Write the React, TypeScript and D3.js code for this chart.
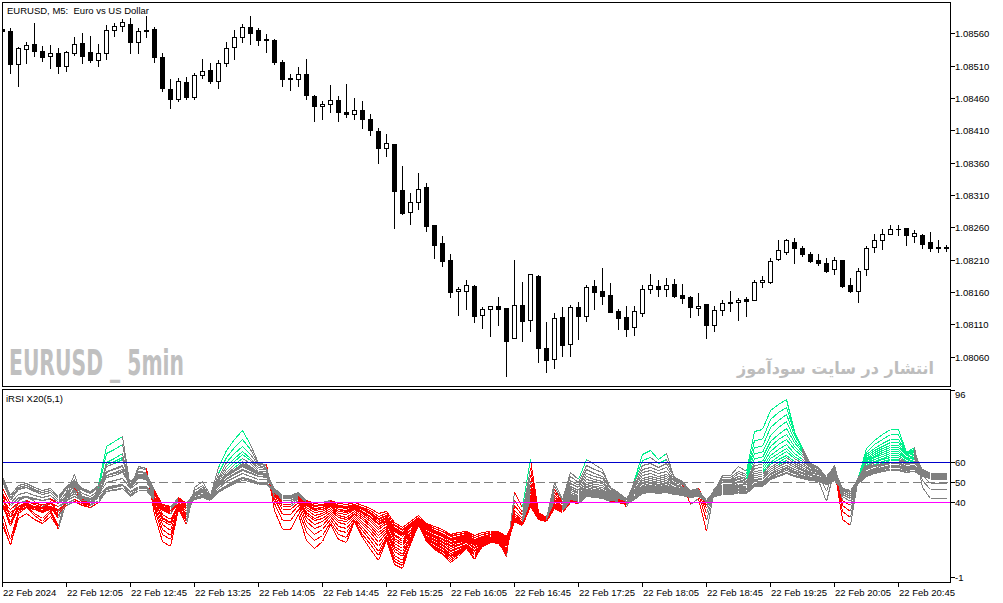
import React from "react";
import * as d3 from "d3";

// ---------- DATA (EURUSD M5, 22 Feb 2024, first bar is partly hidden) ----------
const opens = [
  1.08566, 1.08564, 1.08512, 1.08535, 1.08544, 1.08533, 1.08525, 1.08529, 1.08509, 1.0853,
  1.08545, 1.08531, 1.08518, 1.08529, 1.08565, 1.08571, 1.08575, 1.08546, 1.08565, 1.08567,
  1.08523, 1.08474, 1.08459, 1.08485, 1.08462, 1.08495, 1.08503, 1.08487, 1.08514, 1.08539,
  1.08554, 1.08569, 1.08565, 1.08551, 1.0855, 1.08516, 1.08491, 1.08489, 1.08497, 1.08463,
  1.08447, 1.0845, 1.08457, 1.08438, 1.08435, 1.08442, 1.08428, 1.08409, 1.08382, 1.08389,
  1.08317, 1.08284, 1.08299, 1.08323, 1.08263, 1.08235, 1.08209, 1.08161, 1.08161, 1.08169,
  1.08124, 1.08134, 1.08138, 1.08135, 1.08088, 1.0814, 1.08117, 1.08185, 1.08074, 1.08057,
  1.08122, 1.0808, 1.08137, 1.08123, 1.08169, 1.08162, 1.08155, 1.0813, 1.08121, 1.08106,
  1.08128, 1.08165, 1.08169, 1.08164, 1.08172, 1.08156, 1.08152, 1.08135, 1.08141, 1.08109,
  1.08132, 1.08145, 1.08145, 1.08149, 1.08148, 1.08176, 1.08175, 1.08211, 1.08222, 1.08237,
  1.08228, 1.08218, 1.08209, 1.08204, 1.08195, 1.08209, 1.08171, 1.08162, 1.08195, 1.0823,
  1.08241, 1.0825, 1.08257, 1.08259, 1.08246, 1.08248, 1.08238, 1.08229, 1.08229,
];
const highs = [
  1.08575, 1.08568, 1.08539, 1.08547, 1.08576, 1.0854, 1.08542, 1.08537, 1.08533, 1.08555,
  1.0856, 1.08556, 1.08544, 1.08573, 1.08576, 1.08582, 1.08583, 1.08568, 1.08586, 1.0857,
  1.0853, 1.0849, 1.08491, 1.08492, 1.08498, 1.0852, 1.08514, 1.08519, 1.08546, 1.08565,
  1.08574, 1.08586, 1.08568, 1.08559, 1.08551, 1.08519, 1.08497, 1.08508, 1.0852, 1.08465,
  1.08455, 1.0848, 1.08463, 1.08482, 1.0846, 1.08456, 1.08435, 1.08413, 1.08404, 1.08389,
  1.08355, 1.08313, 1.08344, 1.08329, 1.08263, 1.08247, 1.08218, 1.08167, 1.08179, 1.0817,
  1.08136, 1.08138, 1.08152, 1.08135, 1.08209, 1.08176, 1.08187, 1.08186, 1.08113, 1.08127,
  1.08136, 1.0814, 1.08145, 1.0817, 1.08179, 1.08197, 1.08174, 1.08134, 1.08139, 1.08138,
  1.0817, 1.08187, 1.08179, 1.08181, 1.0818, 1.08173, 1.08154, 1.08158, 1.08141, 1.08139,
  1.08148, 1.08162, 1.0815, 1.08152, 1.08179, 1.08184, 1.08213, 1.0824, 1.08242, 1.08244,
  1.08231, 1.08221, 1.08219, 1.08213, 1.08214, 1.08209, 1.08181, 1.08197, 1.08231, 1.08249,
  1.08257, 1.08264, 1.08264, 1.08259, 1.08256, 1.08249, 1.08253, 1.0824, 1.08232,
];
const lows = [
  1.08555, 1.08498, 1.08479, 1.08514, 1.08525, 1.08517, 1.08507, 1.08499, 1.08502, 1.08527,
  1.08514, 1.08515, 1.08509, 1.08521, 1.08556, 1.08564, 1.08529, 1.0853, 1.08555, 1.08516,
  1.08471, 1.08445, 1.08456, 1.08459, 1.08459, 1.08491, 1.08483, 1.08475, 1.0851, 1.08521,
  1.08546, 1.08544, 1.08542, 1.08531, 1.08512, 1.08478, 1.08473, 1.08479, 1.08458, 1.08424,
  1.08427, 1.08439, 1.08424, 1.0843, 1.08427, 1.08413, 1.08403, 1.0836, 1.0837, 1.08259,
  1.0828, 1.08265, 1.08288, 1.08254, 1.08212, 1.082, 1.08152, 1.08125, 1.08133, 1.08113,
  1.08104, 1.08092, 1.08109, 1.0803, 1.08088, 1.08084, 1.081, 1.08052, 1.08036, 1.08042,
  1.08061, 1.08061, 1.08087, 1.08115, 1.08134, 1.08141, 1.08129, 1.08103, 1.08092, 1.08093,
  1.08123, 1.08158, 1.08154, 1.08154, 1.08152, 1.08143, 1.08121, 1.08125, 1.08089, 1.08099,
  1.08125, 1.0813, 1.08117, 1.08123, 1.08148, 1.08167, 1.08174, 1.08209, 1.08219, 1.08205,
  1.08215, 1.08206, 1.08202, 1.08191, 1.08187, 1.08167, 1.0816, 1.08145, 1.08186, 1.08221,
  1.08226, 1.08249, 1.08248, 1.08233, 1.08238, 1.08228, 1.08223, 1.08221, 1.08224,
];
const closes = [
  1.08563, 1.08512, 1.08537, 1.08542, 1.08532, 1.08524, 1.08529, 1.08509, 1.08531, 1.08544,
  1.08525, 1.08518, 1.0853, 1.08565, 1.08571, 1.08577, 1.08546, 1.08564, 1.08563, 1.08524,
  1.08475, 1.08459, 1.08486, 1.08462, 1.08495, 1.08502, 1.08487, 1.08514, 1.08537, 1.08554,
  1.08569, 1.08561, 1.0855, 1.08549, 1.08515, 1.0849, 1.0849, 1.08497, 1.08464, 1.08447,
  1.0845, 1.08457, 1.08439, 1.08435, 1.08442, 1.08427, 1.0841, 1.08382, 1.0839, 1.08316,
  1.08282, 1.08299, 1.08319, 1.08262, 1.08233, 1.08208, 1.0816, 1.08165, 1.0817, 1.08123,
  1.08133, 1.08138, 1.08134, 1.08084, 1.0814, 1.08115, 1.08187, 1.08074, 1.08055, 1.0812,
  1.08078, 1.08137, 1.08123, 1.08168, 1.0816, 1.08154, 1.08129, 1.0812, 1.08103, 1.08131,
  1.08165, 1.0817, 1.08164, 1.0817, 1.08154, 1.0815, 1.08136, 1.08139, 1.08109, 1.08132,
  1.08143, 1.08143, 1.08148, 1.08146, 1.08176, 1.08178, 1.08208, 1.08225, 1.08241, 1.08228,
  1.08219, 1.08208, 1.08204, 1.08192, 1.08209, 1.08169, 1.08161, 1.08193, 1.08228, 1.0824,
  1.08249, 1.08257, 1.08257, 1.08248, 1.08251, 1.08234, 1.08228, 1.08228, 1.08228,
];
const firstBar = -1; // index of the first (clipped) bar relative to the left edge
const timeLabels = [
  "22 Feb 2024", "22 Feb 12:05", "22 Feb 12:45", "22 Feb 13:25", "22 Feb 14:05",
  "22 Feb 14:45", "22 Feb 15:25", "22 Feb 16:05", "22 Feb 16:45", "22 Feb 17:25",
  "22 Feb 18:05", "22 Feb 18:45", "22 Feb 19:25", "22 Feb 20:05", "22 Feb 20:45",
];
const barsPerTimeLabel = 8;
const priceTicks = [1.0856, 1.0851, 1.0846, 1.0841, 1.0836, 1.0831, 1.0826, 1.0821, 1.0816, 1.0811, 1.0806];
const rsiPeriods = [5, 6, 7, 8, 9, 10, 11, 12, 13, 14, 15, 16, 17, 18, 19, 20, 21, 22, 23, 24];
const rsiRange = [-1, 96];
const rsiAxisLabels = [96, 60, 50, 40, -1];
const levelHigh = 60;
const levelMid = 50;
const levelLow = 40;
const chartTitle = "EURUSD, M5:  Euro vs US Dollar";
const indicatorTitle = "iRSI X20(5,1)";
const watermarkLeft = "EURUSD _ 5min";
const watermarkRight = "انتشار در سایت سودآموز";

// ---------- LAYOUT ----------
const W = 1003;
const H = 603;
const L = 2.5, R = 950.5;
const mainTop = 2.5, mainBot = 386.5;
const indTop = 389.5, indBot = 582.5;
const FONT = "'Liberation Sans', Arial, sans-serif";

const GRAY = "#808080";
const RED = "#FF0000";
const GREEN = "#00F08C";

function computeRSI(period: number): number[] {
  const n = closes.length;
  let g = 0, l = 0;
  for (let i = 1; i <= period; i++) {
    const d = closes[i] - closes[i - 1];
    if (d > 0) g += d; else l -= d;
  }
  g /= period; l /= period;
  const val = (gg: number, ll: number) => (ll === 0 ? 100 : 100 - 100 / (1 + gg / ll));
  const out = [val(g, l)];
  for (let i = 1; i < n; i++) {
    const d = closes[i] - closes[i - 1];
    g = (g * (period - 1) + Math.max(d, 0)) / period;
    l = (l * (period - 1) + Math.max(-d, 0)) / period;
    out.push(val(g, l));
  }
  return out;
}

export default function App() {
  const n = closes.length;
  const x = d3.scaleLinear().domain([firstBar, firstBar + n - 1]).range([2, 2 + 8 * (n - 1)]);
  const yP = d3.scaleLinear().domain([1.0806, 1.0856]).range([356.6, 33.3]);
  const yR = d3.scaleLinear().domain(rsiRange).range([583.7, 389.7]);

  const candles = closes.map((c, i) => {
    const k = firstBar + i;
    const cx = Math.round(x(k));
    const o = opens[i];
    const yH = Math.round(yP(highs[i]));
    const yL = Math.round(yP(lows[i]));
    const yO = Math.round(yP(o));
    const yC = Math.round(yP(c));
    const top = Math.min(yO, yC);
    const bot = Math.max(yO, yC);
    const bull = c > o;
    return (
      <g key={i}>
        <line x1={cx + 0.5} x2={cx + 0.5} y1={yH} y2={yL + 1} stroke="#000" strokeWidth={1} />
        {bull && bot > top ? (
          <rect x={cx - 1.5} y={top + 0.5} width={4} height={bot - top} fill="#fff" stroke="#000" strokeWidth={1} />
        ) : (
          <rect x={cx - 2} y={top} width={5} height={Math.max(1, bot - top + 1)} fill="#000" />
        )}
      </g>
    );
  });

  // RSI lines, coloured per segment by the value at the segment end
  const rsiPaths: JSX.Element[] = [];
  rsiPeriods.forEach((p, pi) => {
    const v = computeRSI(p);
    const segs: Record<string, string> = { g: "", r: "", u: "" };
    for (let i = 1; i < v.length; i++) {
      const x0 = x(firstBar + i - 1) + 0.5, x1 = x(firstBar + i) + 0.5;
      const y0 = Math.round(yR(v[i - 1])) + 0.5, y1 = Math.round(yR(v[i])) + 0.5;
      const key = v[i] > levelHigh ? "u" : v[i] < levelLow ? "r" : "g";
      segs[key] += `M${x0},${y0}L${x1},${y1}`;
    }
    const col: Record<string, string> = { g: GRAY, r: RED, u: GREEN };
    (["g", "r", "u"] as const).forEach((kk) => {
      if (segs[kk])
        rsiPaths.push(
          <path key={`${pi}-${kk}`} d={segs[kk]} fill="none" stroke={col[kk]} strokeWidth={1} shapeRendering="crispEdges" />
        );
    });
  });

  const timeTicks = timeLabels.map((t, i) => {
    const tx = Math.round(x(firstBar + i * barsPerTimeLabel));
    return (
      <g key={t}>
        <line x1={tx + 0.5} x2={tx + 0.5} y1={indBot} y2={indBot + 4} stroke="#000" />
        <text x={tx + 1} y={595.5} fontSize={9.5} fontFamily={FONT} fill="#000">{t}</text>
      </g>
    );
  });

  const priceAxis = priceTicks.map((p) => {
    const ty = Math.round(yP(p)) + 0.5;
    return (
      <g key={p}>
        <line x1={R} x2={R + 4} y1={ty} y2={ty} stroke="#000" />
        <text x={955} y={ty + 3.5} fontSize={9.5} fontFamily={FONT} fill="#000">{p.toFixed(5)}</text>
      </g>
    );
  });

  const rsiAxis = rsiAxisLabels.map((v, i) => {
    let ty = Math.round(yR(v)) + 0.5;
    let labelY = ty + 3.5;
    if (i === 0) { ty = indTop + 1; labelY = 397.5; }
    if (i === rsiAxisLabels.length - 1) { ty = 577.5; labelY = 581; }
    return (
      <g key={v}>
        <line x1={R} x2={R + 4} y1={ty} y2={ty} stroke="#000" />
        <text x={955} y={labelY} fontSize={9.5} fontFamily={FONT} fill="#000">{String(v)}</text>
      </g>
    );
  });

  const yHi = Math.round(yR(levelHigh)) + 0.5;
  const yMid = Math.round(yR(levelMid)) + 0.5;
  const yLo = Math.round(yR(levelLow)) + 0.5;

  return (
    <div style={{ position: "fixed", left: 0, top: 0, width: W, height: H, background: "#fff" }}>
      <svg width={W} height={H} viewBox={`0 0 ${W} ${H}`} style={{ display: "block" }}>
        <defs>
          <clipPath id="clipMain">
            <rect x={3} y={3} width={947} height={383} />
          </clipPath>
          <clipPath id="clipInd">
            <rect x={3} y={390} width={947} height={192} />
          </clipPath>
        </defs>
        <rect x={0} y={0} width={W} height={H} fill="#fff" />

        {/* watermarks */}
        <text x={9} y={375} fontSize={36} fontWeight="bold" fontFamily="'Liberation Sans Narrow', 'DejaVu Sans Condensed', sans-serif"
          fill="#C0C0C0" textLength={175} lengthAdjust="spacingAndGlyphs" style={{ whiteSpace: "pre" }}>{watermarkLeft}</text>
        <text x={737} y={374} fontSize={16.6} fontWeight="bold" fontFamily="'DejaVu Sans', sans-serif"
          fill="#BDBDBD" textLength={197} lengthAdjust="spacingAndGlyphs">{watermarkRight}</text>

        {/* candles */}
        <g clipPath="url(#clipMain)" shapeRendering="crispEdges">{candles}</g>

        {/* indicator */}
        <g clipPath="url(#clipInd)">
          {rsiPaths}
          <line x1={3} x2={950} y1={yHi} y2={yHi} stroke="#0000CC" strokeWidth={1} shapeRendering="crispEdges" />
          <line x1={3} x2={950} y1={yMid} y2={yMid} stroke={GRAY} strokeWidth={1} strokeDasharray="9,4" shapeRendering="crispEdges" />
          <line x1={3} x2={950} y1={yLo} y2={yLo} stroke="#FF00FF" strokeWidth={1} shapeRendering="crispEdges" />
        </g>

        {/* frames */}
        <g shapeRendering="crispEdges" fill="none" stroke="#000" strokeWidth={1}>
          <rect x={L} y={mainTop} width={R - L} height={mainBot - mainTop} />
          <rect x={L} y={indTop} width={R - L} height={indBot - indTop} />
        </g>
        <g shapeRendering="crispEdges">
          {priceAxis}
          {rsiAxis}
          {timeTicks}
        </g>

        <text x={7} y={13.5} fontSize={9.5} fontFamily={FONT} fill="#000" style={{ whiteSpace: "pre" }}>{chartTitle}</text>
        <text x={6} y={402} fontSize={9.5} fontFamily={FONT} fill="#000">{indicatorTitle}</text>
      </svg>
    </div>
  );
}
